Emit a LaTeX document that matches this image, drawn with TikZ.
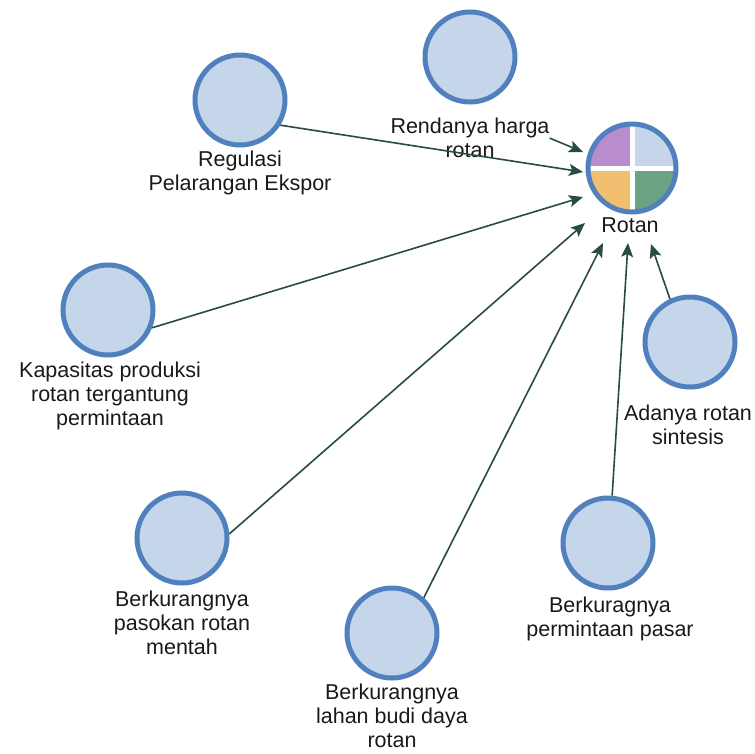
\documentclass[tikz,border=0pt]{standalone}
\usepackage{fontspec}
\setmainfont{Liberation Sans}
\usetikzlibrary{arrows.meta}
\definecolor{bubfill}{RGB}{197,214,235}
\definecolor{bubline}{RGB}{80,128,190}
\definecolor{linkcol}{RGB}{38,76,68}
\definecolor{qpurple}{RGB}{185,140,205}
\definecolor{qblue}{RGB}{197,214,235}
\definecolor{qyellow}{RGB}{240,192,112}
\definecolor{qgreen}{RGB}{108,162,132}
\definecolor{txtcol}{RGB}{25,25,25}
\begin{document}
\begin{tikzpicture}[x=1pt,y=-1pt,
  bub/.style={circle,draw=bubline,fill=bubfill,line width=5pt,minimum size=90pt,inner sep=0pt},
  lab/.style={anchor=north,align=center,inner sep=0pt,text=txtcol,
    font=\fontsize{21.5pt}{24pt}\selectfont},
  link/.style={draw=linkcol,line width=1.6pt,-{Stealth[length=14pt,width=12pt,inset=3pt]}}]
\useasboundingbox (0,0) rectangle (755,753);

% central element with four quadrants
\node[circle,minimum size=88pt,inner sep=0pt] (rotan) at (632,168) {};
\begin{scope}
  \clip (632,168) circle (44pt);
  \fill[qpurple] (588,124) rectangle (632,168);
  \fill[qblue]   (632,124) rectangle (676,168);
  \fill[qyellow] (588,168) rectangle (632,212);
  \fill[qgreen]  (632,168) rectangle (676,212);
  \draw[white,line width=5pt] (588,168) -- (676,168) (632,124) -- (632,212);
\end{scope}
\draw[bubline,line width=5pt] (632,168) circle (44pt);
\node[lab] (rotanl) at (630,218) {Rotan};

% surrounding factors
\node[bub] (reg) at (240,100) {};
\node[lab] (regl) at (240,151) {Regulasi\\Pelarangan Ekspor};
\node[bub] (ren) at (470,57) {};
\node[lab] (renl) at (470,118) {Rendanya harga\\rotan};
\node[bub] (kap) at (108,310) {};
\node[lab] (kapl) at (110,362) {Kapasitas produksi\\rotan tergantung\\permintaan};
\node[bub] (ada) at (690,342) {};
\node[lab] (adal) at (688,405) {Adanya rotan\\sintesis};
\node[bub] (pas) at (182,538) {};
\node[lab] (pasl) at (182,591) {Berkurangnya\\pasokan rotan\\mentah};
\node[bub] (lah) at (392,633) {};
\node[lab] (lahl) at (392,684) {Berkurangnya\\lahan budi daya\\rotan};
\node[bub] (per) at (608,543) {};
\node[lab] (perl) at (610,597) {Berkuragnya\\permintaan pasar};

% arrow ends around the central element
\coordinate (t1) at (583,152);
\coordinate (t2) at (583,172);
\coordinate (t3) at (583,197);
\coordinate (t4) at (585,223);
\coordinate (t5) at (603,243);
\coordinate (t6) at (628,243);
\coordinate (t7) at (651,244);

\draw[link] (renl.east) -- (t1);
\draw[link] (reg.-32) -- (t2);
\draw[link] (kap.-22) -- (t3);
\draw[link] (pas.5) -- (t4);
\draw[link] (lah.48) -- (t5);
\draw[link] (per.85) -- (t6);
\draw[link] (ada.115) -- (t7);
\end{tikzpicture}
\end{document}
